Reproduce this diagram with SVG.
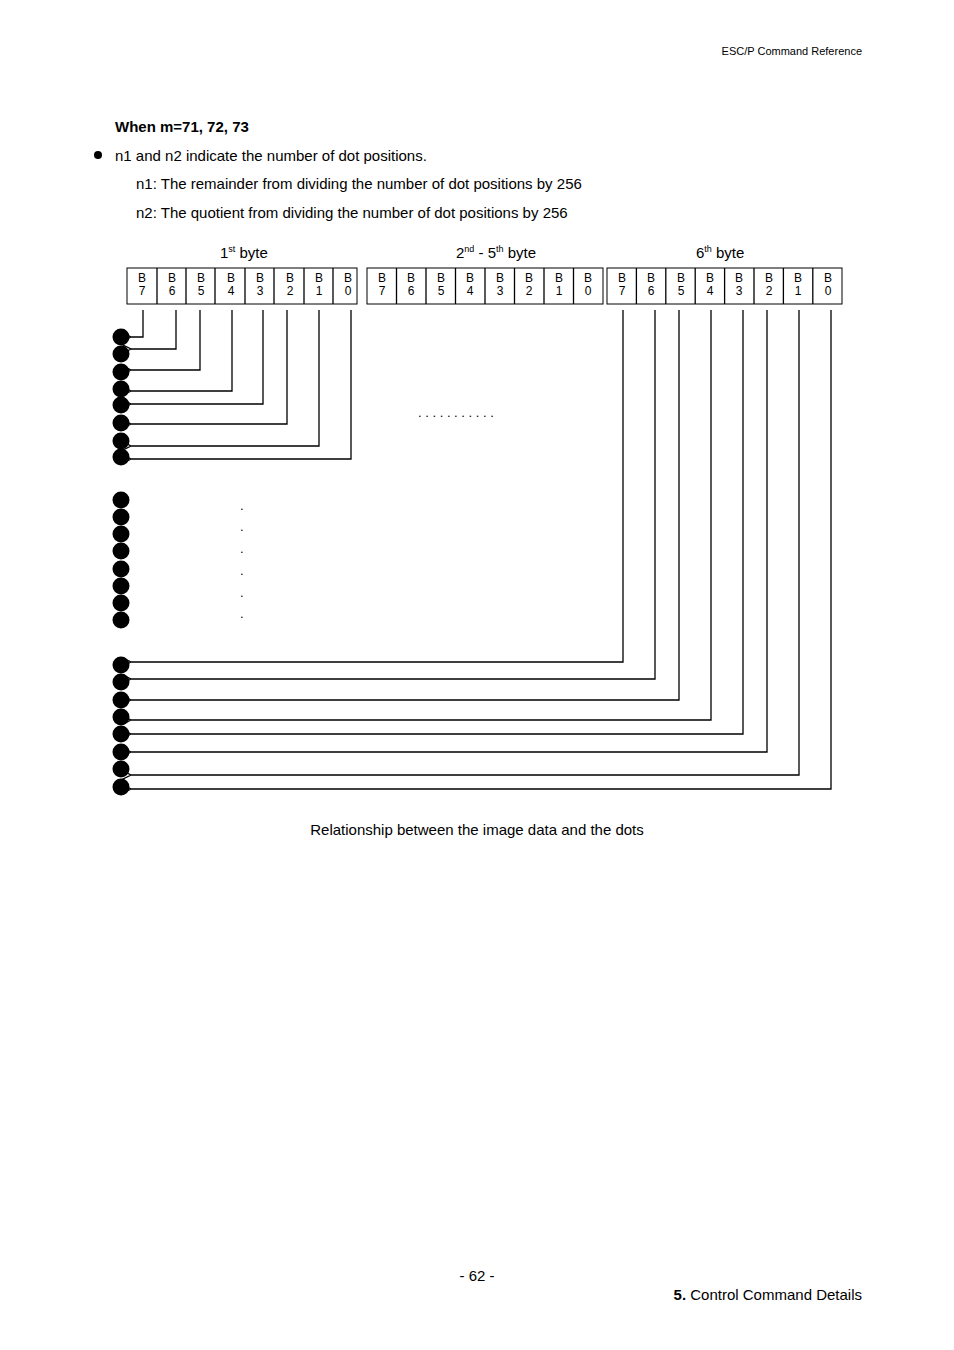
<svg xmlns="http://www.w3.org/2000/svg" width="954" height="1350" viewBox="0 0 954 1350">
<defs>
<style>
text{font-family:"Liberation Sans",Arial,sans-serif;fill:#000}
.s{font-size:15px}
.b{font-size:12px;text-anchor:middle}
.box{fill:#fff;stroke:#000;stroke-width:1}
.w{fill:none;stroke:#000;stroke-width:1.3}
</style>
<marker id="a" viewBox="0 0 10 10" refX="0" refY="5" markerWidth="10" markerHeight="10" markerUnits="userSpaceOnUse" orient="auto-start-reverse"><path d="M10,0 L0,5 L10,10" fill="none" stroke="#000" stroke-width="1.2"/></marker>
</defs>
<rect width="954" height="1350" fill="#fff"/>
<text x="862" y="55" font-size="11" text-anchor="end">ESC/P Command Reference</text>
<text x="115" y="132" class="s" font-weight="bold">When m=71, 72, 73</text>
<circle cx="98" cy="155" r="4"/>
<text x="115" y="161" class="s">n1 and n2 indicate the number of dot positions.</text>
<text x="136" y="189" class="s">n1:   The remainder from dividing the number of dot positions by 256</text>
<text x="136" y="218" class="s">n2:   The quotient from dividing the number of dot positions by 256</text>
<text x="220" y="258" class="s">1<tspan font-size="9" dy="-6">st</tspan><tspan dy="6"> byte</tspan></text>
<text x="456" y="258" class="s">2<tspan font-size="9" dy="-6">nd</tspan><tspan dy="6"> - 5</tspan><tspan font-size="9" dy="-6">th</tspan><tspan dy="6"> byte</tspan></text>
<text x="696" y="258" class="s">6<tspan font-size="9" dy="-6">th</tspan><tspan dy="6"> byte</tspan></text>
<g id="byte1">
<rect class="box" x="127" y="268" width="230" height="36"/>
<path class="w" d="M157,268V304M186,268V304M215,268V304M245,268V304M274,268V304M304,268V304M333,268V304"/>
<text class="b" x="142" y="282">B</text><text class="b" x="142" y="295">7</text>
<text class="b" x="172" y="282">B</text><text class="b" x="172" y="295">6</text>
<text class="b" x="201" y="282">B</text><text class="b" x="201" y="295">5</text>
<text class="b" x="231" y="282">B</text><text class="b" x="231" y="295">4</text>
<text class="b" x="260" y="282">B</text><text class="b" x="260" y="295">3</text>
<text class="b" x="290" y="282">B</text><text class="b" x="290" y="295">2</text>
<text class="b" x="319" y="282">B</text><text class="b" x="319" y="295">1</text>
<text class="b" x="348" y="282">B</text><text class="b" x="348" y="295">0</text>
</g>
<g id="byte2">
<rect class="box" x="367" y="268" width="236" height="36"/>
<path class="w" d="M396.5,268V304M426,268V304M455.5,268V304M485,268V304M514.5,268V304M544,268V304M573.5,268V304"/>
<text class="b" x="382" y="282">B</text><text class="b" x="382" y="295">7</text>
<text class="b" x="411" y="282">B</text><text class="b" x="411" y="295">6</text>
<text class="b" x="441" y="282">B</text><text class="b" x="441" y="295">5</text>
<text class="b" x="470" y="282">B</text><text class="b" x="470" y="295">4</text>
<text class="b" x="500" y="282">B</text><text class="b" x="500" y="295">3</text>
<text class="b" x="529" y="282">B</text><text class="b" x="529" y="295">2</text>
<text class="b" x="559" y="282">B</text><text class="b" x="559" y="295">1</text>
<text class="b" x="588" y="282">B</text><text class="b" x="588" y="295">0</text>
</g>
<g id="byte6">
<rect class="box" x="607" y="268" width="235" height="36"/>
<path class="w" d="M636.4,268V304M665.8,268V304M695.2,268V304M724.6,268V304M754,268V304M783.4,268V304M812.8,268V304"/>
<text class="b" x="622" y="282">B</text><text class="b" x="622" y="295">7</text>
<text class="b" x="651" y="282">B</text><text class="b" x="651" y="295">6</text>
<text class="b" x="681" y="282">B</text><text class="b" x="681" y="295">5</text>
<text class="b" x="710" y="282">B</text><text class="b" x="710" y="295">4</text>
<text class="b" x="739" y="282">B</text><text class="b" x="739" y="295">3</text>
<text class="b" x="769" y="282">B</text><text class="b" x="769" y="295">2</text>
<text class="b" x="798" y="282">B</text><text class="b" x="798" y="295">1</text>
<text class="b" x="828" y="282">B</text><text class="b" x="828" y="295">0</text>
</g>
<g id="dots">
<circle cx="121" cy="337" r="8.5"/><circle cx="121" cy="354" r="8.5"/><circle cx="121" cy="372" r="8.5"/><circle cx="121" cy="389" r="8.5"/>
<circle cx="121" cy="405" r="8.5"/><circle cx="121" cy="423" r="8.5"/><circle cx="121" cy="441" r="8.5"/><circle cx="121" cy="457" r="8.5"/>
<circle cx="121" cy="500" r="8.5"/><circle cx="121" cy="517" r="8.5"/><circle cx="121" cy="534" r="8.5"/><circle cx="121" cy="551" r="8.5"/>
<circle cx="121" cy="569" r="8.5"/><circle cx="121" cy="586" r="8.5"/><circle cx="121" cy="603" r="8.5"/><circle cx="121" cy="620" r="8.5"/>
<circle cx="121" cy="665" r="8.5"/><circle cx="121" cy="682" r="8.5"/><circle cx="121" cy="700" r="8.5"/><circle cx="121" cy="717" r="8.5"/>
<circle cx="121" cy="734" r="8.5"/><circle cx="121" cy="752" r="8.5"/><circle cx="121" cy="769" r="8.5"/><circle cx="121" cy="787" r="8.5"/>
</g>
<g id="connectors" class="w" marker-end="url(#a)">
<path class="w" marker-end="url(#a)" d="M143,310V337H131"/>
<path class="w" marker-end="url(#a)" d="M176,310V349H131"/>
<path class="w" marker-end="url(#a)" d="M200,310V370H131"/>
<path class="w" marker-end="url(#a)" d="M232,310V391H131"/>
<path class="w" marker-end="url(#a)" d="M263,310V404H131"/>
<path class="w" marker-end="url(#a)" d="M287,310V424H131"/>
<path class="w" marker-end="url(#a)" d="M319,310V446H131"/>
<path class="w" marker-end="url(#a)" d="M351,310V459H131"/>
<path class="w" marker-end="url(#a)" d="M623,310V662H131"/>
<path class="w" marker-end="url(#a)" d="M655,310V679H131"/>
<path class="w" marker-end="url(#a)" d="M679,310V700H131"/>
<path class="w" marker-end="url(#a)" d="M711,310V720H131"/>
<path class="w" marker-end="url(#a)" d="M743,310V734H131"/>
<path class="w" marker-end="url(#a)" d="M767,310V752H131"/>
<path class="w" marker-end="url(#a)" d="M799,310V775H131"/>
<path class="w" marker-end="url(#a)" d="M831,310V789H131"/>
</g>
<text x="418" y="417" font-size="13" letter-spacing="0">.   .   .   .   .   .   .   .   .   .   .</text>
<g font-size="13">
<text x="240" y="510">.</text><text x="240" y="531">.</text><text x="240" y="553">.</text><text x="240" y="575">.</text><text x="240" y="597">.</text><text x="240" y="618">.</text>
</g>
<text x="477" y="835" class="s" text-anchor="middle">Relationship between the image data and the dots</text>
<text x="477" y="1281" class="s" text-anchor="middle">- 62 -</text>
<text x="862" y="1300" class="s" text-anchor="end"><tspan font-weight="bold">5.</tspan> Control Command Details</text>
</svg>
